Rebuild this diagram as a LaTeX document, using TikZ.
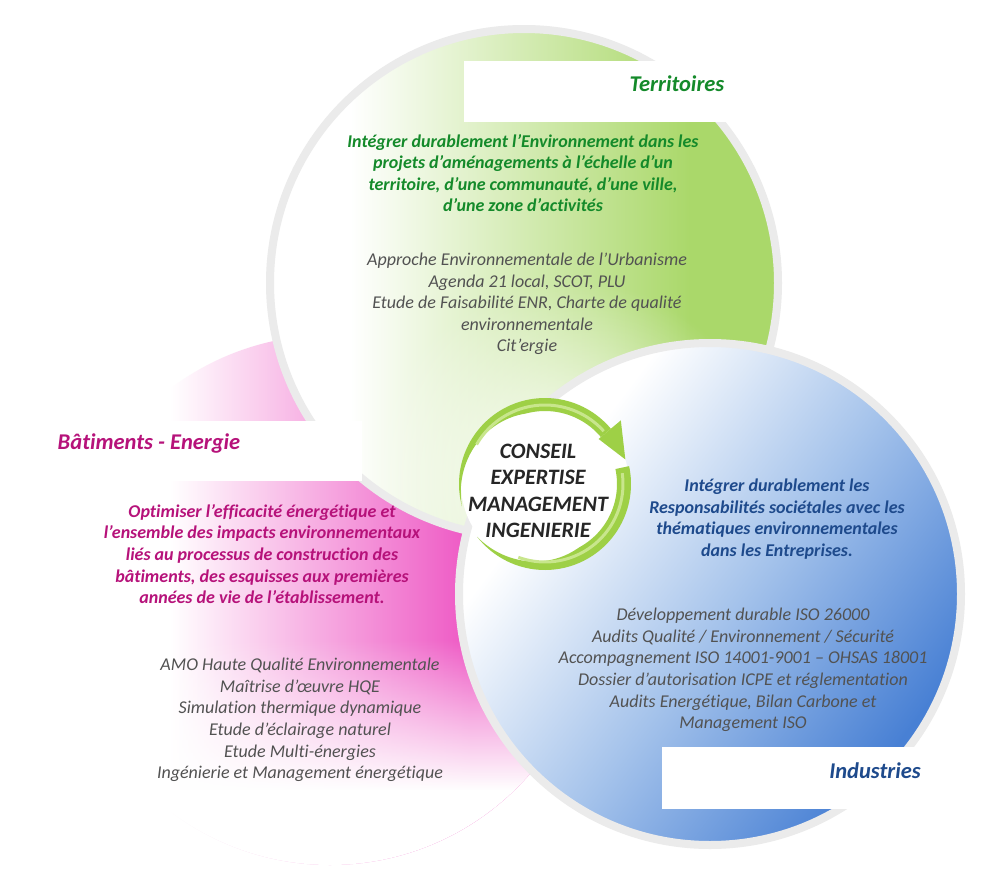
\documentclass[tikz,border=0pt]{standalone}
\usepackage{fontspec}
\setmainfont{Carlito}[Ligatures=NoCommon]
\usetikzlibrary{fadings}
\pgfdeclarelayer{bg}
\pgfsetlayers{bg,main}

\definecolor{terre}{RGB}{20,138,42}
\definecolor{terrefill}{RGB}{170,216,106}
\definecolor{bati}{RGB}{182,18,122}
\definecolor{batifill}{RGB}{238,88,196}
\definecolor{indus}{RGB}{30,74,140}
\definecolor{indusmid}{RGB}{165,195,235}
\definecolor{indusfill}{RGB}{72,128,212}
\definecolor{listgrey}{RGB}{82,82,82}
\definecolor{coretext}{RGB}{38,38,38}
\definecolor{rim}{RGB}{235,235,235}
\definecolor{ringgreen}{RGB}{158,208,70}
\definecolor{ringlight}{RGB}{200,230,140}

\tikzfading[name=fadedown, top color=transparent!100, bottom color=transparent!0]
\tikzfading[name=fadeout, inner color=transparent!0, outer color=transparent!100]

\begin{document}
\begin{tikzpicture}[x=1pt, y=-1pt,
    title/.style={font=\bfseries\itshape\fontsize{22.5}{26}\selectfont},
    lead/.style={font=\bfseries\itshape\fontsize{18}{21.6}\selectfont, align=center},
    items/.style={font=\itshape\fontsize{18}{21.6}\selectfont, text=listgrey, align=center},
    rimline/.style={draw=rim, line width=8pt}]
    \useasboundingbox (0,0) rectangle (994,870);

    % titles
    \node (terr) [title, text=terre] at (677,84) {Territoires};
    \node (bati) [title, text=bati] at (149,443) {Bâtiments - Energie};
    \node (indu) [title, text=indus] at (875,771) {Industries};

    % lead texts
    \node (terrlead) [lead, text=terre] at (523,173) {Intégrer durablement l’Environnement dans les\\projets d’aménagements à l’échelle d’un\\territoire, d’une communauté, d’une ville,\\d’une zone d’activités};
    \node (batilead) [lead, text=bati] at (262,554) {Optimiser l’efficacité énergétique et\\l’ensemble des impacts environnementaux\\liés au processus de construction des\\bâtiments, des esquisses aux premières\\années de vie de l’établissement.};
    \node (indulead) [lead, text=indus] at (777,519) {Intégrer durablement les\\Responsabilités sociétales avec les\\thématiques environnementales\\dans les Entreprises.};

    % service lists
    \node (terrlist) [items] at (527,304) {Approche Environnementale de l’Urbanisme\\Agenda 21 local, SCOT, PLU\\Etude de Faisabilité ENR, Charte de qualité\\environnementale\\Cit’ergie};
    \node (batilist) [items] at (300,720) {AMO Haute Qualité Environnementale\\Maîtrise d’œuvre HQE\\Simulation thermique dynamique\\Etude d’éclairage naturel\\Etude Multi-énergies\\Ingénierie et Management énergétique};
    \node (indulist) [items] at (743,670) {Développement durable ISO 26000\\Audits Qualité / Environnement / Sécurité\\Accompagnement ISO 14001-9001 – OHSAS 18001\\Dossier d’autorisation ICPE et réglementation\\Audits Energétique, Bilan Carbone et\\Management ISO};

    % centre
    \node (core) [align=center, text=coretext, font=\bfseries\itshape\fontsize{22}{26.5}\selectfont] at (538,491) {CONSEIL\\EXPERTISE\\MANAGEMENT\\INGENIERIE};

    \begin{pgfonlayer}{bg}
        \fill[white] (0,0) rectangle (994,870);

        % pink circle
        \begin{scope}
            \clip (330,600) circle (265);
            \shade[left color=white, right color=batifill] (170,330) rectangle (470,870);
            \fill[batifill] (470,330) rectangle (600,870);
            \fill[white, path fading=fadedown] (60,640) rectangle (600,790);
            \fill[white] (60,790) rectangle (600,870);
        \end{scope}

        % green circle
        \begin{scope}
            \clip (524,283) circle (254);
            \fill[white] (260,20) rectangle (790,550);
            \shade[left color=white, right color=terrefill] (350,20) rectangle (690,550);
            \fill[terrefill] (690,20) rectangle (790,550);
            \fill[white, path fading=fadeout] (570,480) circle (200);
        \end{scope}
        \draw[rimline] (524,283) circle (254);

        % blue circle
        \begin{scope}
            \clip (710,594) circle (251);
            \begin{scope}[transform canvas={rotate around={-37:(710,594)}}]
                \fill[white] (430,280) rectangle (521,910);
                \shade[left color=white, right color=indusfill, middle color=indusmid] (520,280) rectangle (951,910);
                \fill[indusfill] (950,280) rectangle (990,910);
            \end{scope}
        \end{scope}
        \draw[rimline] (710,594) circle (251);

        % title boxes
        \fill[white] (464,61) rectangle (745,122);
        \fill[white] (0,421) rectangle (362,481);
        \fill[white] (662,747) rectangle (930,809);

        % ring
        \fill[white] (545,484) circle (84);
        \fill[ringgreen] plot[domain=195:40, samples=60] ({545+86*cos(\x)},{484-86*sin(\x)})
            -- plot[domain=40:195, samples=60] ({545+(86-13*min(1,(195-\x)/90))*cos(\x)},{484-(86-13*min(1,(195-\x)/90))*sin(\x)}) -- cycle;
        \fill[ringgreen] ({545+99*cos(40)},{484-99*sin(40)}) -- ({545+70*cos(40)},{484-70*sin(40)})
            -- ({545+84*cos(17)},{484-84*sin(17)}) -- cycle;
        \fill[ringgreen] plot[domain=12:-142, samples=60] ({545+86*cos(\x)},{484-86*sin(\x)})
            -- plot[domain=-142:12, samples=60] ({545+(86-14*min(1,(\x+142)/80))*cos(\x)},{484-(86-14*min(1,(\x+142)/80))*sin(\x)}) -- cycle;
        \draw[ringlight, line width=3pt] plot[domain=150:42, samples=40] ({545+79*cos(\x)},{484-79*sin(\x)});
        \draw[ringlight, line width=3pt] plot[domain=8:-110, samples=40] ({545+78*cos(\x)},{484-78*sin(\x)});
    \end{pgfonlayer}
\end{tikzpicture}
\end{document}
